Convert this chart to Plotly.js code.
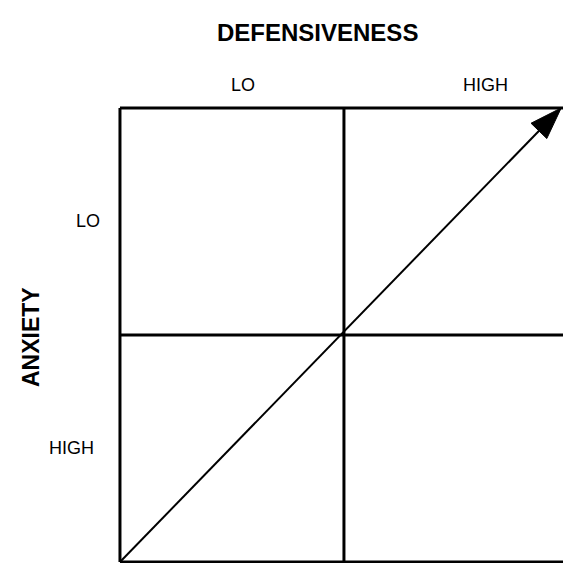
<!DOCTYPE html>
<html>
<head>
<meta charset="utf-8">
<script src="https://cdn.plot.ly/plotly-3.0.1.min.js"></script>
<style>html,body{margin:0;padding:0;background:#fff;}#chart{width:563px;height:563px;}</style>
</head>
<body>
<div id="chart"></div>
<script>
// ---- data ----
const xTitle = 'DEFENSIVENESS';
const yTitle = 'ANXIETY';
const colLabels = ['LO', 'HIGH'];
const rowLabels = ['LO', 'HIGH'];       // top row, bottom row
const gridBounds = [0, 1, 2];          // quadrant boundaries (both axes)
const arrowStart = [0, 0];
const arrowEnd = [1.97, 2.0];

// ---- layout geometry ----
const W = 563, H = 563;
const margin = {l: 109, r: 0, t: 100, b: 0};
const xRange = [-0.049, 1.978];
const yRange = [-0.0044, 2.035];
const pw = W - margin.l - margin.r, ph = H - margin.t - margin.b;
const sx = pw / (xRange[1] - xRange[0]);
const sy = ph / (yRange[1] - yRange[0]);

const traces = [];
const lineStyle = {color: '#000', width: 3};
const lo = gridBounds[0], hi = gridBounds[gridBounds.length - 1];
gridBounds.forEach(v => {
  traces.push({x: [v, v], y: [lo, hi], mode: 'lines', line: lineStyle, hoverinfo: 'skip', showlegend: false});
  traces.push({x: [lo, hi], y: [v, v], mode: 'lines', line: lineStyle, hoverinfo: 'skip', showlegend: false});
});

// arrow: shaft + filled head, computed in pixel space from the data end points
const dxp = (arrowEnd[0] - arrowStart[0]) * sx;
const dyp = (arrowEnd[1] - arrowStart[1]) * sy;
const len = Math.hypot(dxp, dyp);
const ux = dxp / len, uy = dyp / len;
const headLen = 32, headHalf = 11;
const bx = arrowEnd[0] - headLen * ux / sx;
const by = arrowEnd[1] - headLen * uy / sy;
const nx = -uy, ny = ux;
traces.push({x: [arrowStart[0], bx + 2 * ux / sx], y: [arrowStart[1], by + 2 * uy / sy], mode: 'lines',
  line: {color: '#000', width: 2}, hoverinfo: 'skip', showlegend: false});
traces.push({
  x: [arrowEnd[0], bx + headHalf * nx / sx, bx - headHalf * nx / sx, arrowEnd[0]],
  y: [arrowEnd[1], by + headHalf * ny / sy, by - headHalf * ny / sy, arrowEnd[1]],
  mode: 'lines', fill: 'toself', fillcolor: '#000', line: {color: '#000', width: 1},
  hoverinfo: 'skip', showlegend: false
});

const font = 'Liberation Sans, Arial, Helvetica, sans-serif';
const paperY = py => (H - margin.b - py) / ph;
const paperX = px => (px - margin.l) / pw;

const annotations = [];
annotations.push({text: xTitle, xref: 'paper', yref: 'paper', x: paperX(317), y: paperY(32),
  xanchor: 'center', yanchor: 'middle', showarrow: false,
  font: {family: font, size: 24, color: '#000', weight: 'bold'}});
annotations.push({text: yTitle, xref: 'paper', yref: 'paper', x: paperX(31), y: paperY(337),
  xanchor: 'center', yanchor: 'middle', showarrow: false, textangle: -90,
  font: {family: font, size: 23, color: '#000', weight: 'bold'}});
const colX = [0.55, 1.63];
colLabels.forEach((t, i) => annotations.push({text: t, xref: 'x', yref: 'paper', x: colX[i], y: paperY(85),
  xanchor: 'center', yanchor: 'middle', showarrow: false, font: {family: font, size: 18, color: '#000'}}));
const rowY = [1.5, 0.5];
const rowX = [paperX(88), paperX(71)];
rowLabels.forEach((t, i) => annotations.push({text: t, xref: 'paper', yref: 'y', x: rowX[i], y: rowY[i],
  xanchor: 'center', yanchor: 'middle', showarrow: false, font: {family: font, size: 18, color: '#000'}}));

const layout = {
  width: W, height: H, margin: margin,
  paper_bgcolor: '#fff', plot_bgcolor: '#fff',
  xaxis: {range: xRange, visible: false, fixedrange: true},
  yaxis: {range: yRange, visible: false, fixedrange: true},
  annotations: annotations, showlegend: false
};
Plotly.newPlot('chart', traces, layout, {displayModeBar: false, staticPlot: true});
</script>
</body>
</html>
